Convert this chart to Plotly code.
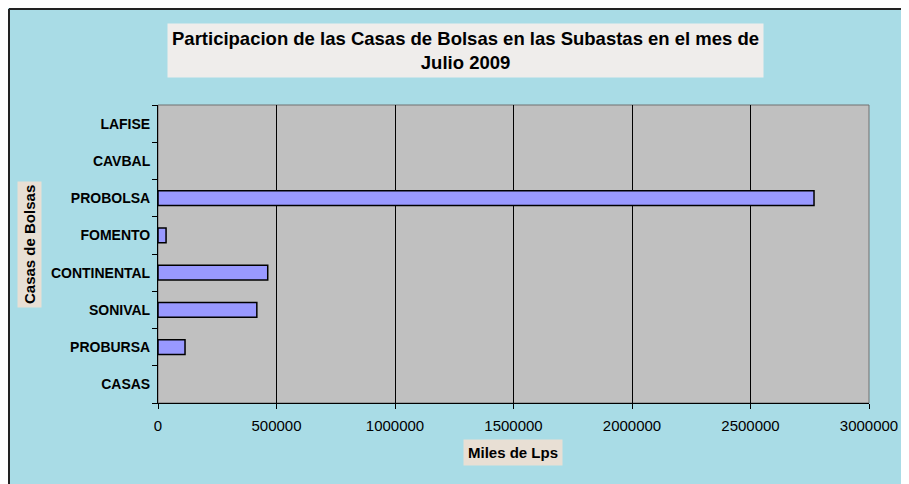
import plotly.graph_objects as go

# ── Data ────────────────────────────────────────────────────────────────────────
casas = ["CASAS", "PROBURSA", "SONIVAL", "CONTINENTAL", "FOMENTO", "PROBOLSA", "CAVBAL", "LAFISE"]
montos = [0, 114000, 417000, 463000, 34000, 2768000, 0, 0]
x_ticks = [0, 500000, 1000000, 1500000, 2000000, 2500000, 3000000]

FONT = "Liberation Sans, Arial, sans-serif"
BG = "#A9DCE6"

# page is offset 8px by the body margin; plot area wanted at x 158..869, y 105..403
PW, PH = 711, 298


def px(x):
    return (x - 158) / PW


def py(y):
    return (403 - y) / PH


fig = go.Figure(go.Bar(
    x=montos,
    y=casas,
    orientation="h",
    marker=dict(color="#9999FF",
                line=dict(color="#000000", width=[1.5 if v else 0 for v in montos])),
    width=0.4,
    hoverinfo="x+y",
))

fig.update_layout(
    width=909,
    height=484,
    margin=dict(l=150, r=48, t=97, b=89),
    paper_bgcolor=BG,
    plot_bgcolor="#C0C0C0",
    showlegend=False,
    font=dict(family=FONT, color="#000000", size=12),
    xaxis=dict(
        range=[0, 3000000],
        tickvals=x_ticks,
        ticktext=[str(v) for v in x_ticks],
        showgrid=True,
        gridcolor="#000000",
        gridwidth=1,
        zeroline=False,
        showline=True,
        linecolor="#000000",
        linewidth=1,
        ticks="outside",
        ticklen=5,
        tickcolor="#000000",
        tickfont=dict(size=15),
        ticklabelstandoff=4,
    ),
    yaxis=dict(
        categoryorder="array",
        categoryarray=casas,
        showline=True,
        linecolor="#000000",
        linewidth=1,
        ticks="outside",
        tickson="boundaries",
        ticklen=5,
        tickcolor="#000000",
        showgrid=False,
        tickfont=dict(size=14, family=FONT),
        ticktext=[f"<b>{c}</b>" for c in casas],
        tickvals=casas,
        ticklabelstandoff=4,
    ),
)

# plot area frame + outer chart border (left/top visible)
fig.add_shape(type="rect", xref="paper", yref="paper", x0=0, x1=1, y0=0, y1=1,
              line=dict(color="#707070", width=1), layer="below")
fig.add_shape(type="line", xref="paper", yref="paper",
              x0=px(9), x1=px(9), y0=py(500), y1=py(9),
              line=dict(color="#222222", width=2))
fig.add_shape(type="line", xref="paper", yref="paper",
              x0=px(9), x1=px(950), y0=py(9), y1=py(9),
              line=dict(color="#222222", width=2))

# title box
fig.add_annotation(
    xref="paper", yref="paper",
    x=px(465), y=py(51),
    text="<b>Participacion de las Casas de Bolsas en las Subastas en el mes de<br>Julio 2009</b>",
    showarrow=False, font=dict(size=18.5, family=FONT),
    bgcolor="#EFEDEB", borderpad=4, align="center",
    xanchor="center", yanchor="middle",
)

# axis titles
fig.add_annotation(
    xref="paper", yref="paper",
    x=px(513), y=py(452),
    text="<b>Miles de Lps</b>", showarrow=False,
    font=dict(size=15, family=FONT), bgcolor="#E8DFD4", borderpad=4,
    xanchor="center", yanchor="middle",
)
fig.add_annotation(
    xref="paper", yref="paper",
    x=px(29), y=py(245),
    text="<b>Casas de Bolsas</b>", showarrow=False, textangle=-90,
    font=dict(size=15, family=FONT), bgcolor="#E8DFD4", borderpad=3,
    xanchor="center", yanchor="middle",
)

fig.write_html("out.html")
